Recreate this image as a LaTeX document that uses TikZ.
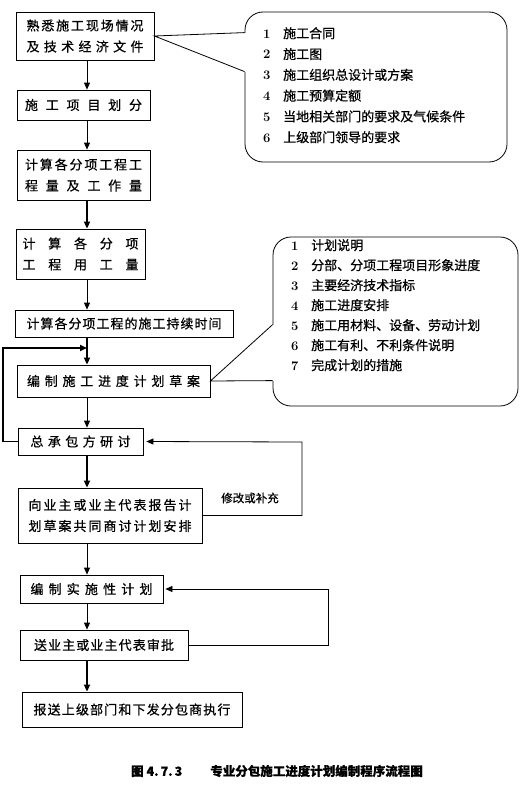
\documentclass[tikz,border=0pt]{standalone}
\usepackage{fontspec}
\newfontfamily\cjk[FakeBold=0.6]{Noto Sans CJK SC}
\usetikzlibrary{arrows.meta, calc}
\newcommand{\spread}[2]{\makebox[#1][s]{\spaceskip=0pt plus 1fil\relax #2}}
\newcommand{\itemno}[1]{\makebox[20pt][l]{\rmfamily\bfseries #1}}

\begin{document}
\begin{tikzpicture}[x=1pt, y=-1pt,
stepbox/.style={draw, line width=0.8pt, inner sep=0pt, align=center, font=\cjk\fontsize{13}{21}\selectfont},
note/.style={draw, line width=0.8pt, rounded corners=18pt, inner sep=0pt},
notetext/.style={anchor=north west, inner sep=0pt, align=left},
flow/.style={-{Triangle[length=7pt,width=6pt]}, line width=0.8pt},
flowthick/.style={flow, line width=1.6pt}
]
\useasboundingbox (0,0) rectangle (525,787);

% Flow steps
\node[stepbox, minimum width=138pt, minimum height=48pt] (survey) at (85,36) {\spread{117pt}{熟 悉 施 工 现 场 情 况}\\\spread{117pt}{及 技 术 经 济 文 件}};
\node[stepbox, minimum width=133pt, minimum height=30pt] (divide) at (83.5,105) {\spread{117pt}{施 工 项 目 划 分}};
\node[stepbox, minimum width=133pt, minimum height=50pt] (quantity) at (83.5,175) {\spread{117pt}{计 算 各 分 项 工 程 工}\\\spread{117pt}{程 量 及 工 作 量}};
\node[stepbox, minimum width=129pt, minimum height=50pt] (labour) at (80.5,254) {\spread{116pt}{计 算 各 分 项}\\\spread{116pt}{工 程 用 工 量}};
\node[stepbox, minimum width=218pt, minimum height=27pt] (duration) at (124,323.5) {\spread{195pt}{计 算 各 分 项 工 程 的 施 工 持 续 时 间}};
\node[stepbox, minimum width=193pt, minimum height=32pt] (draft) at (113.5,381) {\spread{173pt}{编 制 施 工 进 度 计 划 草 案}};
\node[stepbox, minimum width=125pt, minimum height=27pt] (review) at (80.5,441.5) {\spread{100pt}{总 承 包 方 研 讨}};
\node[stepbox, minimum width=184pt, minimum height=55pt] (report) at (110,515.5) {\spread{163pt}{向 业 主 或 业 主 代 表 报 告 计}\\\spread{163pt}{划 草 案 共 同 商 讨 计 划 安 排}};
\node[stepbox, minimum width=143pt, minimum height=28pt] (detail) at (91.5,589) {\spread{122pt}{编 制 实 施 性 计 划}};
\node[stepbox, minimum width=168pt, minimum height=30pt] (approve) at (104,645) {\spread{140pt}{送 业 主 或 业 主 代 表 审 批}};
\node[stepbox, minimum width=220pt, minimum height=35pt] (issue) at (132,709.5) {\spread{197pt}{报 送 上 级 部 门 和 下 发 分 包 商 执 行}};

% Main line
\coordinate (spine) at (87,0);
\draw[flow] (survey.south -| spine) -- (divide.north -| spine);
\draw[flow] (divide.south -| spine) -- (quantity.north -| spine);
\draw[flowthick] (quantity.south -| spine) -- (labour.north -| spine);
\draw[flow] (labour.south -| spine) -- (duration.north -| spine);
\draw[flowthick] (duration.south -| spine) -- (draft.north -| spine);
\draw[flow] (draft.south -| spine) -- (review.north -| spine);
\draw[flowthick] (review.south -| spine) -- (report.north -| spine);
\draw[flow] (report.south -| spine) -- (detail.north -| spine);
\draw[flow] (detail.south -| spine) -- (approve.north -| spine);
\draw[flowthick] (approve.south -| spine) -- (issue.north -| spine);

% Feedback loops
\coordinate (back1) at (3,348);
\coordinate (join1) at (87,348);
\draw[flowthick] (review.west) -| (back1) -- (join1);
\coordinate (back2) at (302,442);
\draw[flow, shorten >=3pt] (report.east) -| (back2) -- (review.east);
\node[font=\cjk\fontsize{11.5}{14}\selectfont] (fixlabel) at (250,498) {修改或补充};
\coordinate (back3) at (328,589);
\draw[flow, shorten >=2pt] (approve.east) -| (back3) -- (detail.east);

% Callout: documents
\node[note, minimum width=262pt, minimum height=150pt] (docs) at (376,87) {};
\coordinate (docs-a) at ($(docs.north west)+(0,21)$);
\coordinate (docs-b) at ($(docs.north west)+(0,60)$);
\draw[white, line width=2pt] (docs-a) -- (docs-b);
\draw[line width=0.8pt] (docs-a) -- (survey.east) -- (docs-b);
\node[notetext, font=\cjk\fontsize{13}{20.8}\selectfont] (docslist) at (263,27) {\itemno{1}施工合同\\\itemno{2}施工图\\\itemno{3}施工组织总设计或方案\\\itemno{4}施工预算定额\\\itemno{5}当地相关部门的要求及气候条件\\\itemno{6}上级部门领导的要求};

% Callout: contents of the draft
\node[note, minimum width=245pt, minimum height=169pt] (contents) at (395.5,321.5) {};
\coordinate (contents-a) at ($(contents.north west)+(0,88)$);
\coordinate (contents-b) at ($(contents.north west)+(0,144)$);
\draw[white, line width=2pt] (contents-a) -- (contents-b);
\draw[line width=0.8pt] (contents-a) -- (draft.east) -- (contents-b);
\node[notetext, font=\cjk\fontsize{13}{20}\selectfont] (contentslist) at (291,239) {\itemno{1}计划说明\\\itemno{2}分部、分项工程项目形象进度\\\itemno{3}主要经济技术指标\\\itemno{4}施工进度安排\\\itemno{5}施工用材料、设备、劳动计划\\\itemno{6}施工有利、不利条件说明\\\itemno{7}完成计划的措施};

% Caption
\node[font=\cjk\bfseries\fontsize{12.5}{15}\selectfont] (caption) at (277,771) {图 4.\,7.\,3\hspace{28pt}专业分包施工进度计划编制程序流程图};

\end{tikzpicture}
\end{document}
